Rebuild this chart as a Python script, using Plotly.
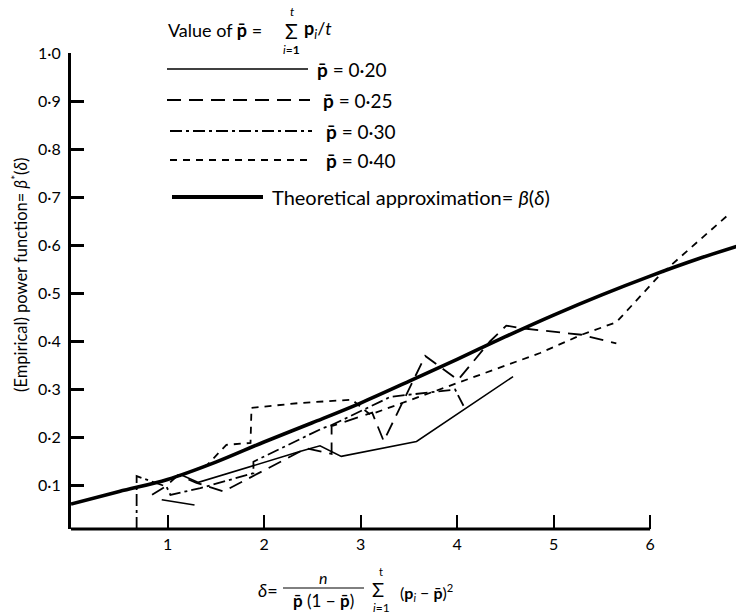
import plotly.graph_objects as go

FONT = "Lato"

# ---------------- data ----------------
theory_delta = [0, 0.5, 1, 1.5, 2, 2.5, 3, 3.5, 4, 4.5, 5, 5.5, 6, 6.5, 6.9]
theory_beta = [0.062, 0.088, 0.113, 0.149, 0.191, 0.231, 0.272, 0.317, 0.363, 0.410, 0.455, 0.497, 0.536, 0.572, 0.598]

p20_delta = [0.94, 1.28, None, 1.15, 1.32, 2.37, 2.58, 2.80, 3.58, 4.58]
p20_beta = [0.071, 0.060, None, 0.122, 0.107, 0.171, 0.183, 0.161, 0.192, 0.327]

p25_delta = [0.84, 0.99, 1.11, 1.30, 1.58, 2.44, 2.70, 2.70, 3.12, 3.24, 3.67, 4.01, 4.34, 4.51, 4.65, 5.29, 5.65]
p25_beta = [0.081, 0.100, 0.122, 0.106, 0.088, 0.178, 0.166, 0.224, 0.252, 0.193, 0.370, 0.320, 0.400, 0.433, 0.428, 0.414, 0.396]

p30_delta = [0.68, 0.68, 0.99, 1.03, 1.34, 1.89, 1.89, 2.61, 2.69, 3.31, 3.98, 4.08]
p30_beta = [0.01, 0.120, 0.098, 0.081, 0.095, 0.126, 0.150, 0.220, 0.225, 0.285, 0.300, 0.261]

p40_delta = [1.25, 1.41, 1.61, 1.86, 1.87, 2.37, 2.91, 3.10, 4.86, 5.29, 5.65, 6.10, 6.83]
p40_beta = [0.130, 0.143, 0.185, 0.189, 0.262, 0.272, 0.279, 0.248, 0.376, 0.414, 0.440, 0.538, 0.667]

x_ticks = [1, 2, 3, 4, 5, 6]
x_ticktext = ["1", "2", "3", "4", "5", "6"]
y_ticks = [0.1, 0.2, 0.3, 0.4, 0.5, 0.6, 0.7, 0.8, 0.9, 1.0]
y_ticktext = ["0·1", "0·2", "0·3", "0·4", "0·5", "0·6", "0·7", "0·8", "0·9", "1·0"]

legend_labels = ["<b>p̄</b> = 0·20", "<b>p̄</b> = 0·25", "<b>p̄</b> = 0·30", "<b>p̄</b> = 0·40"]

# ---------------- layout geometry ----------------
W_FIG, H_FIG = 736, 616
L, T, R, B = 71, 53, 0, 87
PW, PH = W_FIG - L - R, H_FIG - T - B
X_MAX_AXIS = 6
X_RANGE = [0, 6.89]
Y_RANGE = [0.01, 1.0]

DASH_LONG = "14px,8px"
DASH_DOT = "12px,4px,3px,4px"
DASH_SHORT = "7px,6px"


def px2x(px):
    return (px - L) / PW


def py2y(py):
    return (H_FIG - B - py) / PH


def ann(text, px, py, size=16, xanchor="center", yanchor="middle", **kw):
    return dict(text=text, x=px2x(px), y=py2y(py), xref="paper", yref="paper",
                showarrow=False, xanchor=xanchor, yanchor=yanchor,
                font=dict(family=FONT, size=size, color="black"), **kw)


def hline(px0, px1, py, width=1.6, dash="solid"):
    return dict(type="line", xref="paper", yref="paper",
                x0=px2x(px0), x1=px2x(px1), y0=py2y(py), y1=py2y(py),
                line=dict(color="black", width=width, dash=dash))


fig = go.Figure()

series = [
    (p20_delta, p20_beta, "solid", 1.6),
    (p25_delta, p25_beta, DASH_LONG, 1.8),
    (p30_delta, p30_beta, DASH_DOT, 1.8),
    (p40_delta, p40_beta, DASH_SHORT, 1.8),
]
for xs, ys, dash, w in series:
    fig.add_trace(go.Scatter(x=xs, y=ys, mode="lines", connectgaps=False,
                             line=dict(color="black", width=w, dash=dash),
                             showlegend=False, hoverinfo="skip"))

fig.add_trace(go.Scatter(x=theory_delta, y=theory_beta, mode="lines",
                         line=dict(color="black", width=3.6, shape="spline"),
                         showlegend=False, hoverinfo="skip"))

shapes = []
# x axis line only up to delta = 6
shapes.append(dict(type="line", xref="x", yref="paper", x0=0, x1=X_MAX_AXIS, y0=0, y1=0,
                   line=dict(color="black", width=3)))

# legend sample lines
shapes.append(hline(167, 308, 69, 1.6, "solid"))
shapes.append(hline(167, 310, 100, 1.8, DASH_LONG))
shapes.append(hline(170, 312, 131, 1.8, DASH_DOT))
shapes.append(hline(170, 312, 160, 1.8, DASH_SHORT))
shapes.append(hline(172, 263, 197, 4, "solid"))

# fraction bar in x-axis title
shapes.append(hline(283, 364, 588, 1, "solid"))

annotations = []
# legend header
annotations.append(ann("Value of <b>p̄</b> =", 166, 30, 18, xanchor="left"))
annotations.append(ann("Σ", 291, 31, 21))
annotations.append(ann("<i>t</i>", 292, 11, 12))
annotations.append(ann("<i>i</i>=<b>1</b>", 291, 49, 12))
annotations.append(ann("<b>p</b><sub><i>i</i></sub>/<i>t</i>", 302, 30, 18, xanchor="left"))
# legend labels
for lab, px, py in zip(legend_labels, [315, 321, 324, 324], [69, 100, 131, 160]):
    annotations.append(ann(lab, px, py, 19, xanchor="left"))
annotations.append(ann("Theoretical approximation= <i>β</i>(<i>δ</i>)", 270, 197, 20, xanchor="left"))

# x-axis title (delta formula)
annotations.append(ann("<i>δ</i>=", 268, 590, 18))
annotations.append(ann("<i>n</i>", 323, 577, 16))
annotations.append(ann("<b>p̄</b> (1 − <b>p̄</b>)", 323, 600, 17))
annotations.append(ann("Σ", 378, 589, 20))
annotations.append(ann("t", 381, 571, 11))
annotations.append(ann("<i>i</i>=1", 381, 607, 12))
annotations.append(ann("(<b>p</b><sub><i>i</i></sub> − <b>p̄</b>)<sup>2</sup>", 398, 592, 16, xanchor="left"))

# y-axis title
annotations.append(ann("(Empirical) power function= <i>β</i><sup>*</sup>(<i>δ</i>)", 20, 275, 16.5,
                       textangle=-90))

fig.update_layout(
    width=W_FIG, height=H_FIG,
    margin=dict(l=L, r=R, t=T, b=B, pad=0),
    paper_bgcolor="white", plot_bgcolor="white",
    font=dict(family=FONT, size=16, color="black"),
    shapes=shapes, annotations=annotations,
    xaxis=dict(range=X_RANGE, showgrid=False, zeroline=False, showline=False,
               tickmode="array", tickvals=x_ticks, ticktext=x_ticktext,
               ticks="inside", ticklen=14, tickwidth=2, tickcolor="black",
               ticklabelstandoff=4,
               tickfont=dict(family=FONT, size=16, color="black")),
    yaxis=dict(range=Y_RANGE, showgrid=False, zeroline=False, showline=True,
               linecolor="black", linewidth=3,
               tickmode="array", tickvals=y_ticks, ticktext=y_ticktext,
               ticks="inside", ticklen=13, tickwidth=3, tickcolor="black",
               ticklabelstandoff=4,
               tickfont=dict(family=FONT, size=16, color="black")),
)

fig.write_html("out.html")
